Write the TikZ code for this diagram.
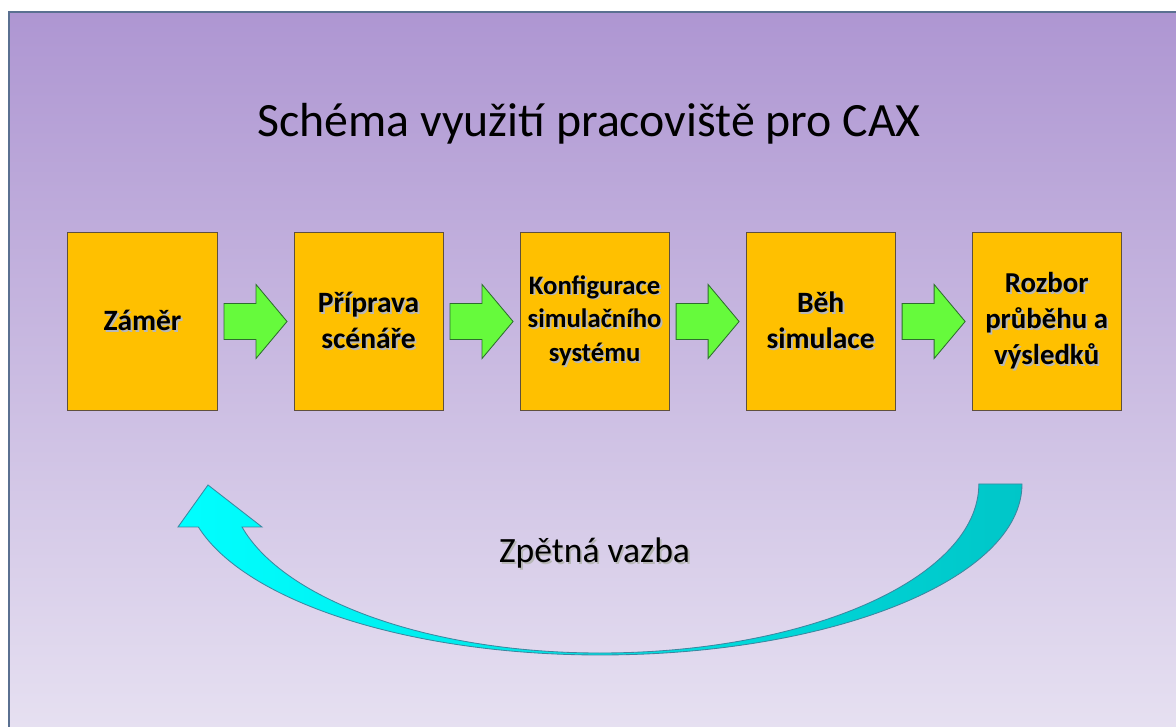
\documentclass[tikz,border=0pt]{standalone}
\usepackage{fontspec}
\setmainfont{Carlito}
\usepackage{tikz}
\usetikzlibrary{positioning,calc}
\definecolor{bgtop}{RGB}{174,150,210}
\definecolor{bgbottom}{RGB}{230,224,241}
\definecolor{frameline}{RGB}{90,112,145}
\definecolor{stepfill}{RGB}{255,192,0}
\definecolor{stepline}{RGB}{95,80,60}
\definecolor{flowgreen}{RGB}{102,250,60}
\definecolor{flowline}{RGB}{45,110,45}
\definecolor{loopcyan}{RGB}{0,255,255}
\definecolor{loopteal}{RGB}{0,198,200}
\definecolor{loopline}{RGB}{60,135,160}
\newcommand{\shd}[1]{\makebox[0pt][l]{\hspace{1.3pt}\raisebox{-1.3pt}{\textcolor{black!28}{#1}}}#1}

\begin{document}
\begin{tikzpicture}[x=0.025cm, y=0.025cm,
    stepbox/.style={rectangle, draw=stepline, line width=0.7pt, fill=stepfill,
                    minimum width=3.725cm, minimum height=4.425cm, align=center,
                    inner sep=2pt, font=\fontsize{21}{25.5}\selectfont\bfseries},
    flowarr/.style={draw=flowline, line width=0.6pt, fill=flowgreen},
    looparr/.style={draw=loopline, line width=0.6pt, left color=loopcyan, right color=loopteal},
    node distance=1.9cm
  ]
    % Background
    \useasboundingbox (0,0) rectangle (1176,727);
    \fill[top color=bgtop, bottom color=bgbottom] (9,0) rectangle (1176,715);
    \draw[frameline, line width=0.8pt] (9,0) -- (9,715) -- (1176,715);

    % Title
    \node[font=\fontsize{34}{40}\selectfont, anchor=base] (title) at (589,590)
      {Schéma využití pracoviště pro CAX};

    % Steps
    \node[stepbox] (zamer) at (142.5,405.5) {\shd{Záměr}};
    \node[stepbox, right=of zamer] (priprava) {\shd{Příprava}\\\shd{scénáře}};
    \node[stepbox, right=of priprava, font=\fontsize{19}{24}\selectfont\bfseries] (konfig)
      {\shd{Konfigurace}\\\shd{simulačního}\\\shd{systému}};
    \node[stepbox, right=of konfig] (beh) {\shd{Běh}\\\shd{simulace}};
    \node[stepbox, right=of beh, font=\fontsize{20.5}{25.5}\selectfont\bfseries] (rozbor)
      {\shd{Rozbor}\\\shd{průběhu a}\\\shd{výsledků}};

    % Flow arrows
    \foreach \a/\b in {zamer/priprava, priprava/konfig, konfig/beh, beh/rozbor}
      \draw[flowarr] ($(\a.east)!0.5!(\b.west)$) ++(-31.5,-18) -- ++(32,0) -- ++(0,-19)
        -- ++(31,37) -- ++(-31,37) -- ++(0,-19) -- ++(-32,0) -- cycle;

    % Feedback
    \coordinate (fbtail) at (1022,243);
    \coordinate (fbtip)  at (208,242);
    \path[looparr] (fbtail)
      arc[start angle=0, end angle=-90, x radius=422, y radius=171]
      arc[start angle=-90, end angle=-165.44, x radius=415, y radius=171]
      -- (178,200) -- (fbtip) -- (262,200) -- (242,200)
      arc[start angle=-165.26, end angle=-90, x radius=370, y radius=169]
      arc[start angle=-90, end angle=0, x radius=379, y radius=169]
      -- cycle;
    \node[font=\fontsize{25.3}{30}\selectfont, anchor=base] (zpetna) at (594.5,164)
      {\shd{Zpětná vazba}};
\end{tikzpicture}
\end{document}
